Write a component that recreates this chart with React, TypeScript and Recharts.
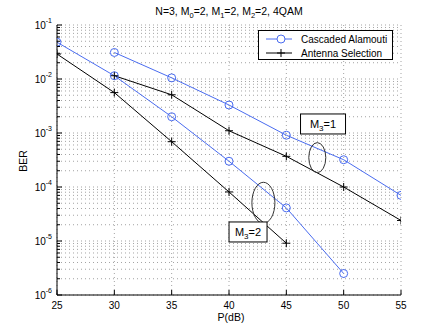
import React from 'react';
import { LineChart, Line, XAxis, YAxis, CartesianGrid, ReferenceDot } from 'recharts';

// P(dB) on the x axis
const snr = [25, 30, 35, 40, 45, 50, 55];
// BER (null = no point)
const alamoutiM1 = [null, 0.031, 0.0105, 0.0033, 0.00091, 0.00032, 0.00007];
const selectionM1 = [null, 0.0115, 0.0051, 0.0011, 0.00037, 0.0001, 0.000024];
const alamoutiM2 = [0.048, 0.0115, 0.002, 0.0003, 0.000041, 0.0000025, null];
const selectionM2 = [0.029, 0.0056, 0.00069, 0.000081, 0.0000091, null, null];

const xTicks = [25, 30, 35, 40, 45, 50, 55];
const decades = [-6, -5, -4, -3, -2];

// annotation anchors (data coords)
const ellipseAt = [
  { x: 47.7, y: 3.5e-4 },
  { x: 43.0, y: 5.1e-5 },
];
const boxAt = [
  { x: 48.2, y: 1.47e-3, m: '1' },
  { x: 41.66, y: 1.47e-5, m: '2' },
];

const yTicks: number[] = [];
decades.forEach((d) => {
  for (let k = 1; k <= 9; k++) yTicks.push(k * Math.pow(10, d));
});
yTicks.push(0.1);

const data = snr.map((s, i) => ({
  snr: s,
  a1: alamoutiM1[i],
  s1: selectionM1[i],
  a2: alamoutiM2[i],
  s2: selectionM2[i],
}));

const BLUE = '#4a6cf0';
const FONT = '"Liberation Sans", Arial, Helvetica, sans-serif';

const isDecade = (v: number) => Math.abs(Math.log10(v) - Math.round(Math.log10(v))) < 1e-6;

const LeftTick = (props: any) => {
  const { x, y, payload } = props;
  const v = payload.value;
  const major = isDecade(v);
  return (
    <g>
      <line x1={x} x2={x + (major ? 5 : 3)} y1={y} y2={y} stroke="#000" />
      {major && (
        <text x={x - 5} y={y + 4} textAnchor="end" fontSize={10} fill="#000" fontFamily={FONT}>
          10<tspan fontSize={7} dy={-6}>{'-' + Math.abs(Math.round(Math.log10(v)))}</tspan>
        </text>
      )}
    </g>
  );
};

const RightTick = (props: any) => {
  const { x, y, payload } = props;
  const major = isDecade(payload.value);
  return <line x1={x} x2={x - (major ? 5 : 3)} y1={y} y2={y} stroke="#000" />;
};

const BottomTick = (props: any) => {
  const { x, y, payload } = props;
  return (
    <g>
      <line x1={x} x2={x} y1={y} y2={y - 5} stroke="#000" />
      <text x={x} y={y + 14} textAnchor="middle" fontSize={10} fill="#000" fontFamily={FONT}>
        {payload.value}
      </text>
    </g>
  );
};

const TopTick = (props: any) => {
  const { x, y } = props;
  return <line x1={x} x2={x} y1={y} y2={y + 5} stroke="#000" />;
};

const CircleDot = (props: any) => {
  const { cx, cy, index, value } = props;
  if (value == null || cx == null || cy == null) return <g key={index} />;
  return <circle key={index} cx={cx} cy={cy} r={4} fill="none" stroke={BLUE} strokeWidth={1} />;
};

const PlusDot = (props: any) => {
  const { cx, cy, index, value } = props;
  if (value == null || cx == null || cy == null) return <g key={index} />;
  return (
    <path
      key={index}
      d={`M${cx - 4},${cy}H${cx + 4}M${cx},${cy - 4}V${cy + 4}`}
      stroke="#000"
      strokeWidth={1}
    />
  );
};

const App: React.FC = () => {
  return (
    <div style={{ position: 'absolute', left: 0, top: 0, width: 442, height: 332, background: '#fff', fontFamily: FONT }}>
      <LineChart width={442} height={332} data={data} margin={{ top: 25, right: 41, bottom: 0, left: 0 }}>
        <CartesianGrid stroke="#a3a3a3" strokeDasharray="1 3" />
        <XAxis
          dataKey="snr"
          type="number"
          domain={[25, 55]}
          ticks={xTicks}
          interval={0}
          height={37}
          tickSize={0}
          tickMargin={0}
          tickLine={false}
          axisLine={{ stroke: '#000' }}
          tick={<BottomTick />}
          allowDataOverflow
        />
        <XAxis
          xAxisId="top"
          orientation="top"
          type="number"
          domain={[25, 55]}
          ticks={xTicks}
          interval={0}
          height={0}
          tickSize={0}
          tickMargin={0}
          tickLine={false}
          axisLine={{ stroke: '#000' }}
          tick={<TopTick />}
          allowDataOverflow
        />
        <YAxis
          scale="log"
          type="number"
          domain={[1e-6, 1e-1]}
          ticks={yTicks}
          interval={0}
          width={57}
          tickSize={0}
          tickMargin={0}
          tickLine={false}
          axisLine={{ stroke: '#000' }}
          tick={<LeftTick />}
          allowDataOverflow
        />
        <YAxis
          yAxisId="right"
          orientation="right"
          scale="log"
          type="number"
          domain={[1e-6, 1e-1]}
          ticks={yTicks}
          interval={0}
          width={0}
          tickSize={0}
          tickMargin={0}
          tickLine={false}
          axisLine={{ stroke: '#000' }}
          tick={<RightTick />}
          allowDataOverflow
        />
        <Line dataKey="a1" stroke={BLUE} strokeWidth={1} dot={<CircleDot />} isAnimationActive={false} />
        <Line dataKey="s1" stroke="#000" strokeWidth={1} dot={<PlusDot />} isAnimationActive={false} />
        <Line dataKey="a2" stroke={BLUE} strokeWidth={1} dot={<CircleDot />} isAnimationActive={false} />
        <Line dataKey="s2" stroke="#000" strokeWidth={1} dot={<PlusDot />} isAnimationActive={false} />
        <ReferenceDot
          x={ellipseAt[0].x}
          y={ellipseAt[0].y}
          ifOverflow="visible"
          shape={(p: any) => <ellipse cx={p.cx} cy={p.cy} rx={8.5} ry={15} fill="none" stroke="#333" />}
        />
        <ReferenceDot
          x={ellipseAt[1].x}
          y={ellipseAt[1].y}
          ifOverflow="visible"
          shape={(p: any) => <ellipse cx={p.cx} cy={p.cy} rx={11.5} ry={20.5} fill="none" stroke="#333" />}
        />
        {boxAt.map((b, i) => (
          <ReferenceDot
            key={'box' + i}
            x={b.x}
            y={b.y}
            ifOverflow="visible"
            shape={(p: any) => {
              const w = i === 0 ? 45 : 38;
              return (
                <g>
                  <rect x={p.cx - w / 2} y={p.cy - 10} width={w} height={20} fill="#fff" stroke="#000" />
                  <text x={p.cx} y={p.cy + 4} textAnchor="middle" fontSize={11} fill="#000" fontFamily={FONT}>
                    M<tspan fontSize={8} dy={3}>3</tspan>
                    <tspan dy={-3}>{'=' + b.m}</tspan>
                  </text>
                </g>
              );
            }}
          />
        ))}
      </LineChart>

      <svg width={442} height={332} style={{ position: 'absolute', left: 0, top: 0, pointerEvents: 'none' }}>
        <text x={229} y={15} textAnchor="middle" fontSize={10.5} fill="#000" fontFamily={FONT}>
          N=3, M<tspan fontSize={7.5} dy={3}>0</tspan>
          <tspan dy={-3}>=2, M</tspan>
          <tspan fontSize={7.5} dy={3}>1</tspan>
          <tspan dy={-3}>=2, M</tspan>
          <tspan fontSize={7.5} dy={3}>2</tspan>
          <tspan dy={-3}>=2, 4QAM</tspan>
        </text>
        <text x={231} y={321} textAnchor="middle" fontSize={10.5} fill="#000" fontFamily={FONT}>
          P(dB)
        </text>
        <text
          x={27}
          y={161}
          textAnchor="middle"
          fontSize={10.5}
          fill="#000"
          fontFamily={FONT}
          transform="rotate(-90 27 161)"
        >
          BER
        </text>
      </svg>

      <div
        style={{
          position: 'absolute',
          left: 258,
          top: 30,
          width: 133,
          height: 28,
          border: '1px solid #000',
          background: '#fff',
        }}
      >
        <svg width={133} height={28} style={{ position: 'absolute', left: 0, top: 0 }}>
          <line x1={7} x2={33} y1={8} y2={8} stroke={BLUE} />
          <circle cx={22} cy={8} r={4} fill="#fff" stroke={BLUE} />
          <text x={42} y={12} fontSize={10} fill="#000" fontFamily={FONT}>Cascaded Alamouti</text>
          <line x1={7} x2={33} y1={22} y2={22} stroke="#000" />
          <path d="M18,22H26M22,18V26" stroke="#000" />
          <text x={42} y={26} fontSize={10} fill="#000" fontFamily={FONT}>Antenna Selection</text>
        </svg>
      </div>
    </div>
  );
};

export default App;
